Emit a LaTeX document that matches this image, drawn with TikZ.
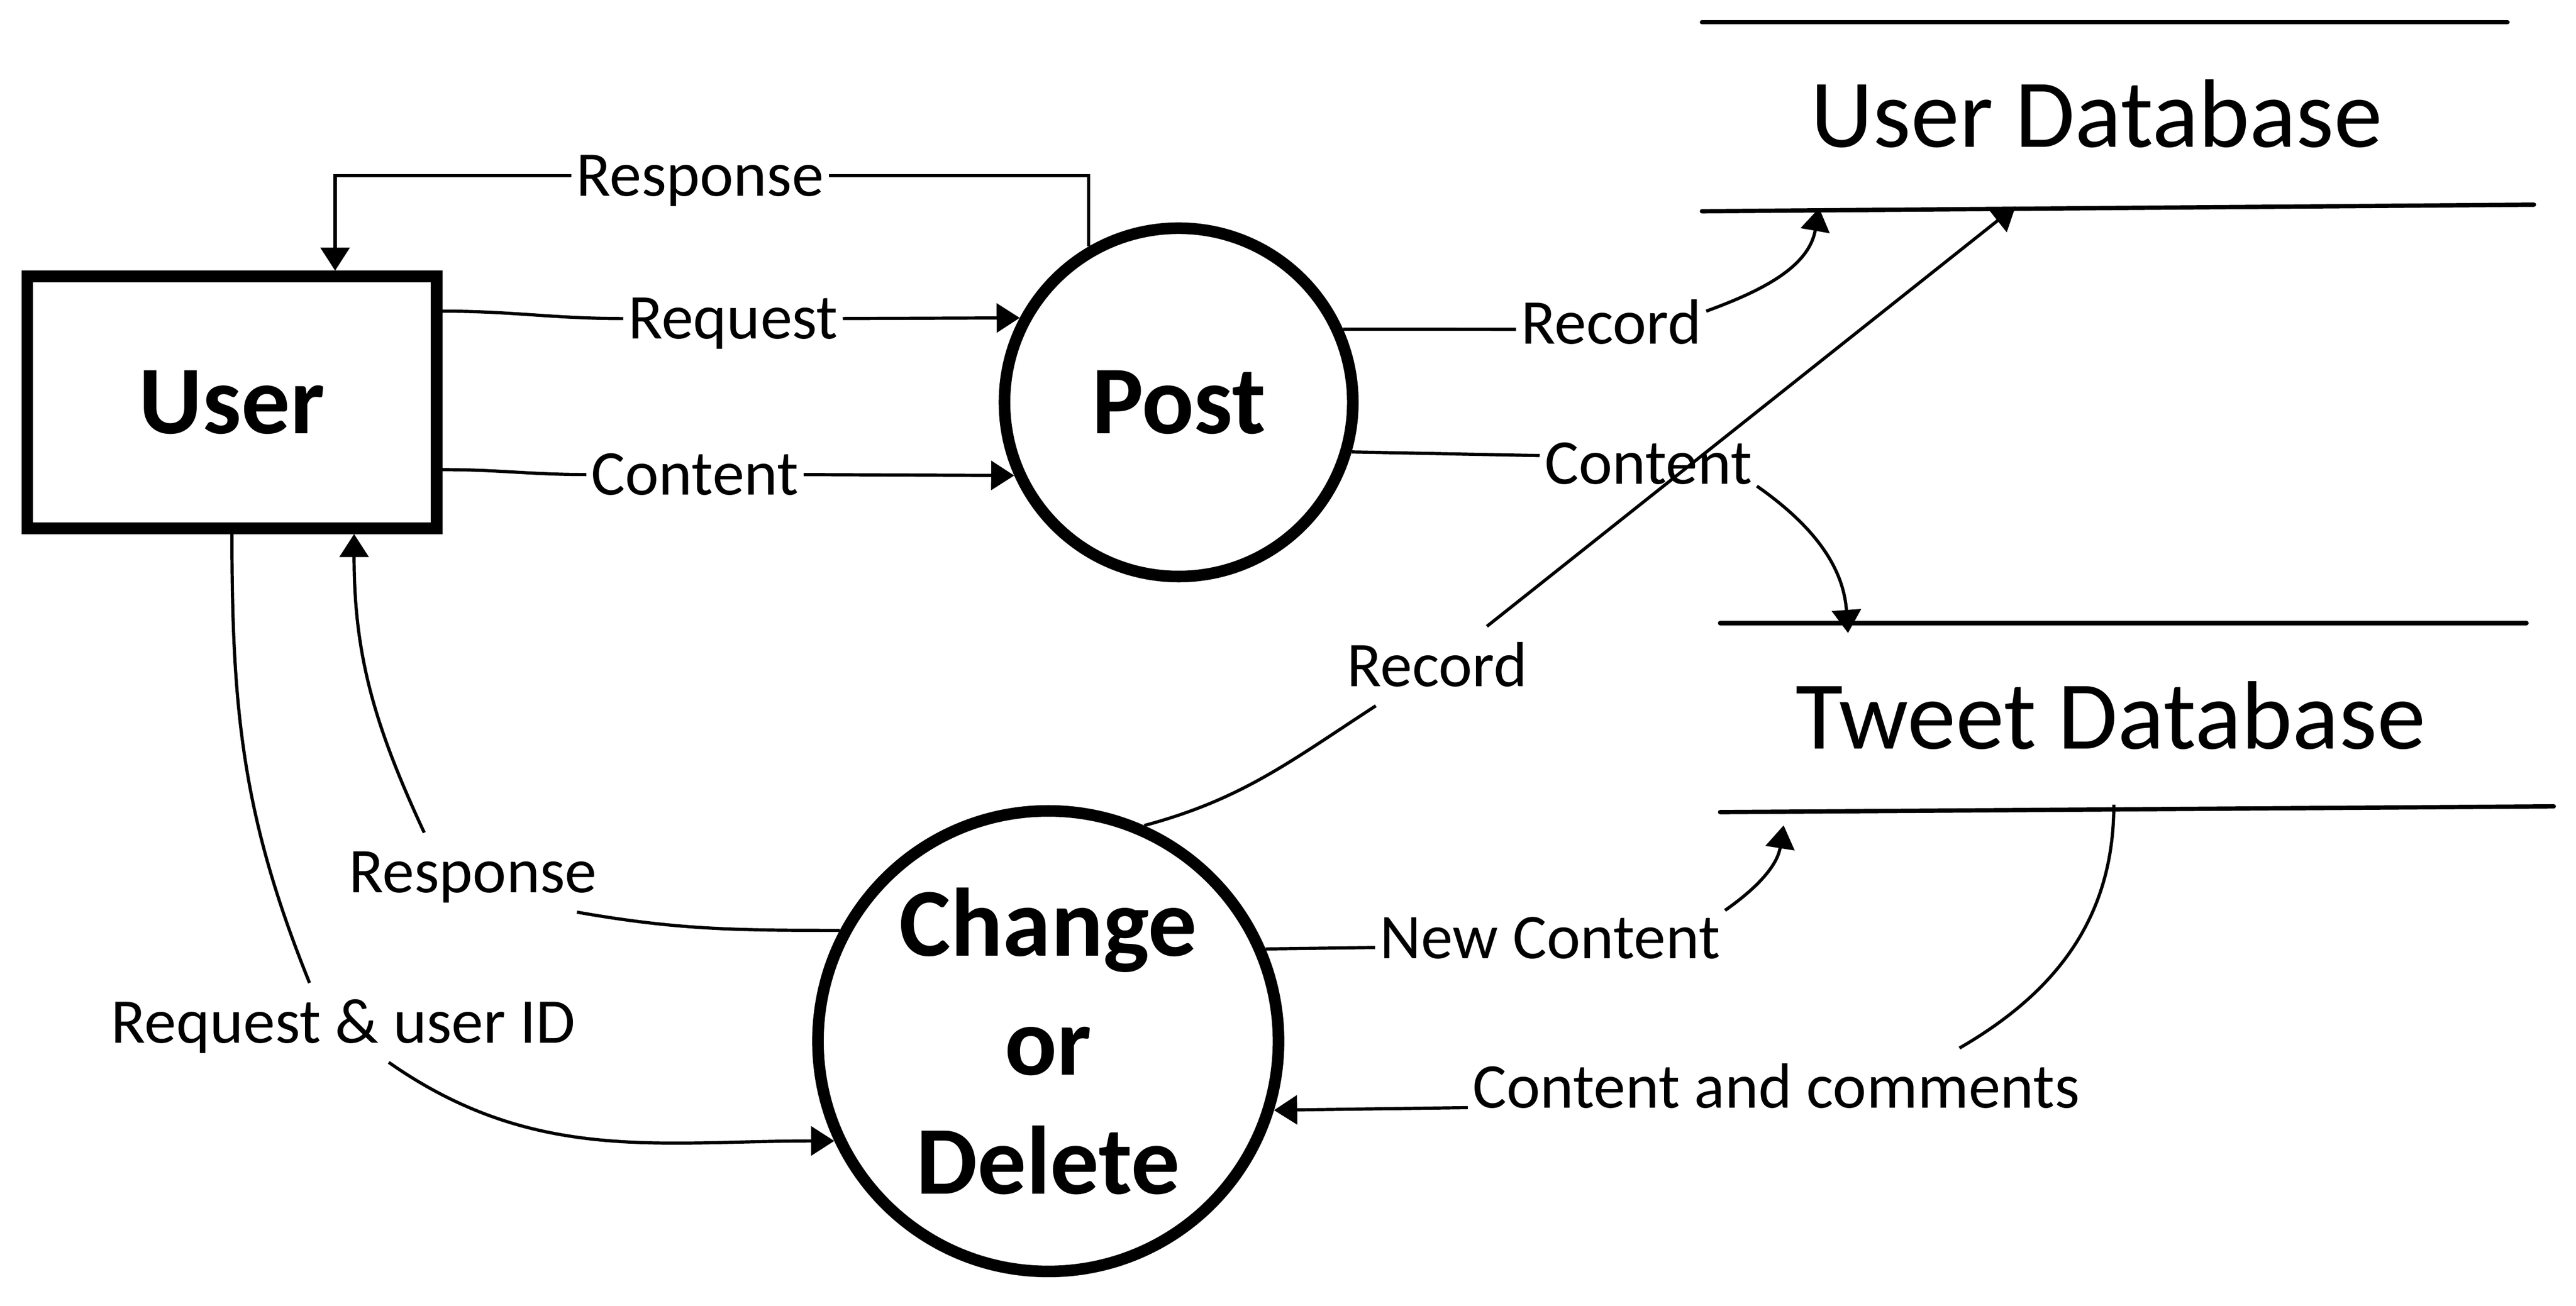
\documentclass[tikz,border=0pt]{standalone}
\usepackage{fontspec}
\setmainfont{Carlito}
\usetikzlibrary{arrows.meta}
\tikzset{
	entity/.style={draw=black, line width=4pt, minimum width=4.96cm, minimum height=3.05cm, font=\fontsize{33.5}{41}\selectfont\bfseries},
	process/.style={draw=black, circle, line width=4pt, inner sep=0pt, align=center, font=\fontsize{33.5}{41}\selectfont\bfseries},
	dbtext/.style={anchor=base, font=\fontsize{33.5}{41}\selectfont},
	lbl/.style={font=\fontsize{22}{26}\selectfont, text height=14pt, text depth=0pt, inner xsep=1.5pt, inner ysep=6.5pt},
	flowline/.style={draw=black, line width=1.1pt},
	flow/.style={flowline, -{Triangle[length=2.8mm,width=3.5mm]}},
	store/.style={draw=black, line width=1.5pt, line cap=round}
}
\begin{document}
\begin{tikzpicture}
		\useasboundingbox (0,0) rectangle (31.21,15.82);
		\node[entity] (user) at (2.81,10.945) {User};
		\node[process, minimum size=4.22cm] (post) at (14.28,10.945) {Post};
		\node[process, minimum size=5.58cm] (chg) at (12.70,3.205) {Change\\or\\Delete};
		\node[dbtext] (udb) at (25.40,14.035) {User Database};
		\node[dbtext] (tdb) at (25.57,6.75) {Tweet Database};
		\coordinate (udbTL) at (20.62,15.55);
		\coordinate (udbTR) at (30.38,15.55);
		\coordinate (udbBL) at (20.62,13.26);
		\coordinate (udbBR) at (30.70,13.34);
		\coordinate (tdbTL) at (20.84,8.27);
		\coordinate (tdbTR) at (30.61,8.27);
		\coordinate (tdbBL) at (20.84,5.98);
		\coordinate (tdbBR) at (30.94,6.05);
		\draw[store] (udbTL) -- (udbTR);
		\draw[store] (udbBL) -- (udbBR);
		\draw[store] (tdbTL) -- (tdbTR);
		\draw[store] (tdbBL) -- (tdbBR);
		\coordinate (tipRecA) at (22.04,13.30);
		\coordinate (tipRecB) at (24.42,13.32);
		\coordinate (tipCont) at (22.39,8.15);
		\coordinate (tipNew) at (21.61,5.82);
		\coordinate (srcCom) at (25.61,6.07);
		\node[lbl] (lrespA) at (8.48,13.69) {Response};
		\node[lbl] (lreq) at (8.88,11.96) {Request};
		\node[lbl] (lcontA) at (8.42,10.07) {Content};
		\node[lbl] (lrecA) at (19.52,11.90) {Record};
		\node[lbl] (lcontB) at (19.97,10.20) {Content};
		\node[lbl] (lrecB) at (17.41,7.75) {Record};
		\node[lbl] (lrespB) at (5.73,5.25) {Response};
		\node[lbl] (lreqid) at (4.16,3.43) {Request \& user ID};
		\node[lbl] (lnew) at (18.78,4.45) {New Content};
		\node[lbl] (lcom) at (21.52,2.64) {Content and comments};
		\draw[flowline] (post.120) |- (lrespA.east);
		\draw[flow] (lrespA.west) -| ([xshift=1.25cm]user.north);
		\draw[flowline] ([yshift=1.105cm]user.east) to[out=0,in=180] (lreq.west);
		\draw[flow] (lreq.east) -- (post.152);
		\draw[flowline] ([yshift=-0.815cm]user.east) to[out=0,in=180] (lcontA.west);
		\draw[flow] (lcontA.east) -- (post.204);
		\draw[flowline] (post.24) -- ([yshift=-0.07cm]lrecA.west);
		\draw[flow] ([yshift=0.15cm]lrecA.east) to[out=20,in=-100] (tipRecA);
		\draw[flowline] (post.-16) -- ([yshift=0.1cm]lcontB.west);
		\draw[flow] ([yshift=-0.27cm]lcontB.east) to[out=-35,in=94] (tipCont);
		\draw[flowline] (chg.66) to[out=15,in=213] (lrecB);
		\draw[flow] (lrecB) -- (tipRecB);
		\draw[flowline] (chg.152) to[out=180,in=-10] ([xshift=1.26cm]lrespB.south);
		\draw[flow] ([xshift=-0.59cm]lrespB.north) to[out=115,in=-90] ([xshift=1.48cm]user.south);
		\draw[flowline] (user.south) to[out=-90,in=112] ([xshift=-0.41cm]lreqid.north);
		\draw[flow] ([xshift=0.55cm]lreqid.south) to[out=-35,in=180] (chg.205);
		\draw[flowline] (chg.23) -- ([yshift=-0.11cm]lnew.west);
		\draw[flow] ([yshift=0.34cm]lnew.east) to[out=35,in=-99] (tipNew);
		\draw[flowline] (srcCom) to[out=-90,in=30] ([xshift=2.22cm]lcom.north);
		\draw[flow] ([yshift=-0.24cm]lcom.west) -- (chg.-17);
	\end{tikzpicture}
\end{document}
